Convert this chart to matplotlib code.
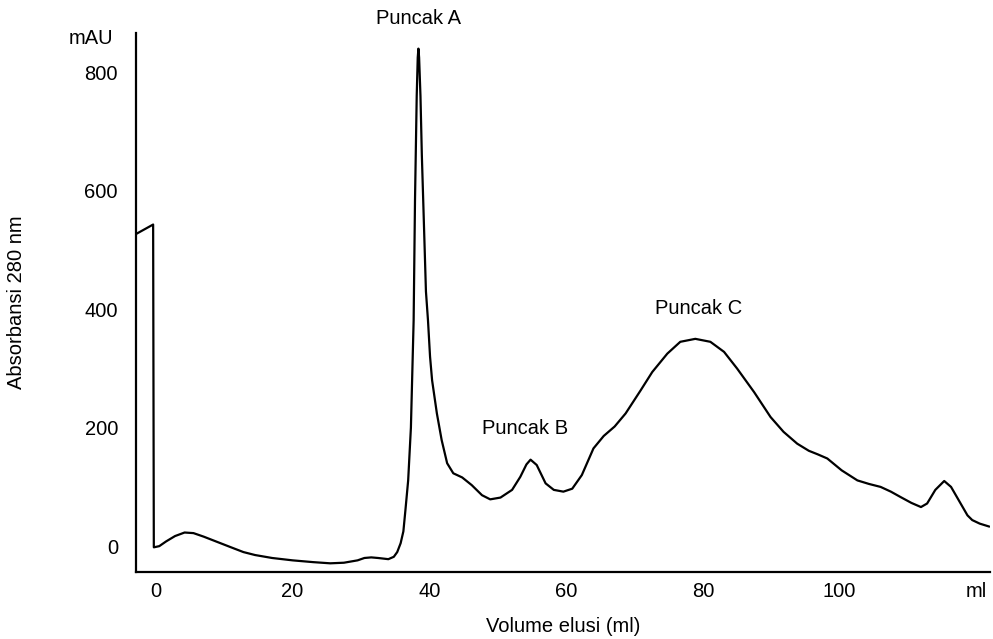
import matplotlib
matplotlib.use("Agg")
import matplotlib.pyplot as plt

plt.rcParams["font.family"] = ["Liberation Sans", "DejaVu Sans"]

# elution volume (ml) and absorbance at 280 nm (mAU)
volume = [
    -2.9, -0.4, -0.3, 0.5, 1.5, 2.8, 4.2, 5.5, 7, 9, 11, 12.8, 14.5, 17, 20,
    23, 25.5, 27.5, 29.5, 30.5, 31.5, 32.5, 34, 34.8, 35.3, 35.8, 36.2, 36.5,
    36.9, 37.3, 37.7, 37.9, 38.15, 38.3, 38.4, 38.5, 38.7, 38.9, 39.1, 39.5,
    39.8, 40.1, 40.4, 41.1, 41.8, 42.6, 43.5, 44.8, 46.2, 47.7, 48.9, 50.4,
    52.1, 53.3, 54.2, 54.8, 55.7, 57, 58.2, 59.6, 60.9, 62.3, 64, 65.5, 67.1,
    68.7, 70.9, 72.6, 74.8, 76.7, 78.9, 81.1, 83.1, 85, 87.5, 89.9, 91.8,
    93.8, 95.5, 96.8, 98.2, 100.3, 102.6, 104.3, 106, 107.5, 108.9, 110.5,
    111.9, 112.8, 114, 115.3, 116.3, 117.7, 118.7, 119.4, 120.5, 121.9,
]
absorbance = [
    527, 543, -2, 0, 8, 17, 23, 22, 16, 7, -2, -10, -15, -20, -24,
    -27, -29, -28, -24, -20, -19, -20, -22, -18, -10, 5, 25, 61,
    111, 200, 381, 584, 760, 825, 840, 825, 760, 660, 584, 430,
    381, 320, 280, 224, 179, 140, 123, 116, 103, 86, 79, 82,
    95, 117, 138, 146, 137, 106, 95, 92, 97, 120, 165, 186, 202,
    224, 263, 294, 325, 345, 350, 345, 328, 300, 260, 218, 193,
    173, 161, 155, 148, 128, 111, 105, 100, 92, 83, 73,
    66, 72, 95, 110, 100, 72, 52, 44, 38, 33,
]

x_ticks = [0, 20, 40, 60, 80, 100, 120]
x_labels = ["0", "20", "40", "60", "80", "100", "ml"]
y_ticks = [0, 200, 400, 600, 800]

peak_names = ["Puncak A", "Puncak B", "Puncak C"]
peak_x = [38.4, 54.0, 79.4]
peak_y = [891, 199, 402]

fs = 14.5

fig = plt.figure(figsize=(9.93, 6.39), dpi=100)
ax = fig.add_axes([0.137, 0.105, 0.86, 0.843])

ax.plot(volume, absorbance, color="black", linewidth=1.6,
        solid_joinstyle="round", solid_capstyle="round")

ax.set_xlim(-2.9, 122)
ax.set_ylim(-43.5, 866)

ax.set_xticks(x_ticks)
ax.set_xticklabels(x_labels)
ax.set_yticks(y_ticks)
ax.tick_params(axis="both", length=0, labelsize=fs)
ax.tick_params(axis="x", pad=7)
ax.tick_params(axis="y", pad=13)

for side in ["top", "right"]:
    ax.spines[side].set_visible(False)
for side in ["left", "bottom"]:
    ax.spines[side].set_linewidth(1.6)

ax.set_xlabel("Volume elusi (ml)", fontsize=fs, labelpad=12)
ax.set_ylabel("Absorbansi 280 nm", fontsize=fs, labelpad=42)

# unit label above the y axis
fig.text(113.5 / 993, 1 - 38 / 639, "mAU", fontsize=fs, ha="right", va="center")

for name, px, py in zip(peak_names, peak_x, peak_y):
    ax.text(px, py, name, fontsize=fs, ha="center", va="center", clip_on=False)

fig.savefig("out.png", dpi=100)
